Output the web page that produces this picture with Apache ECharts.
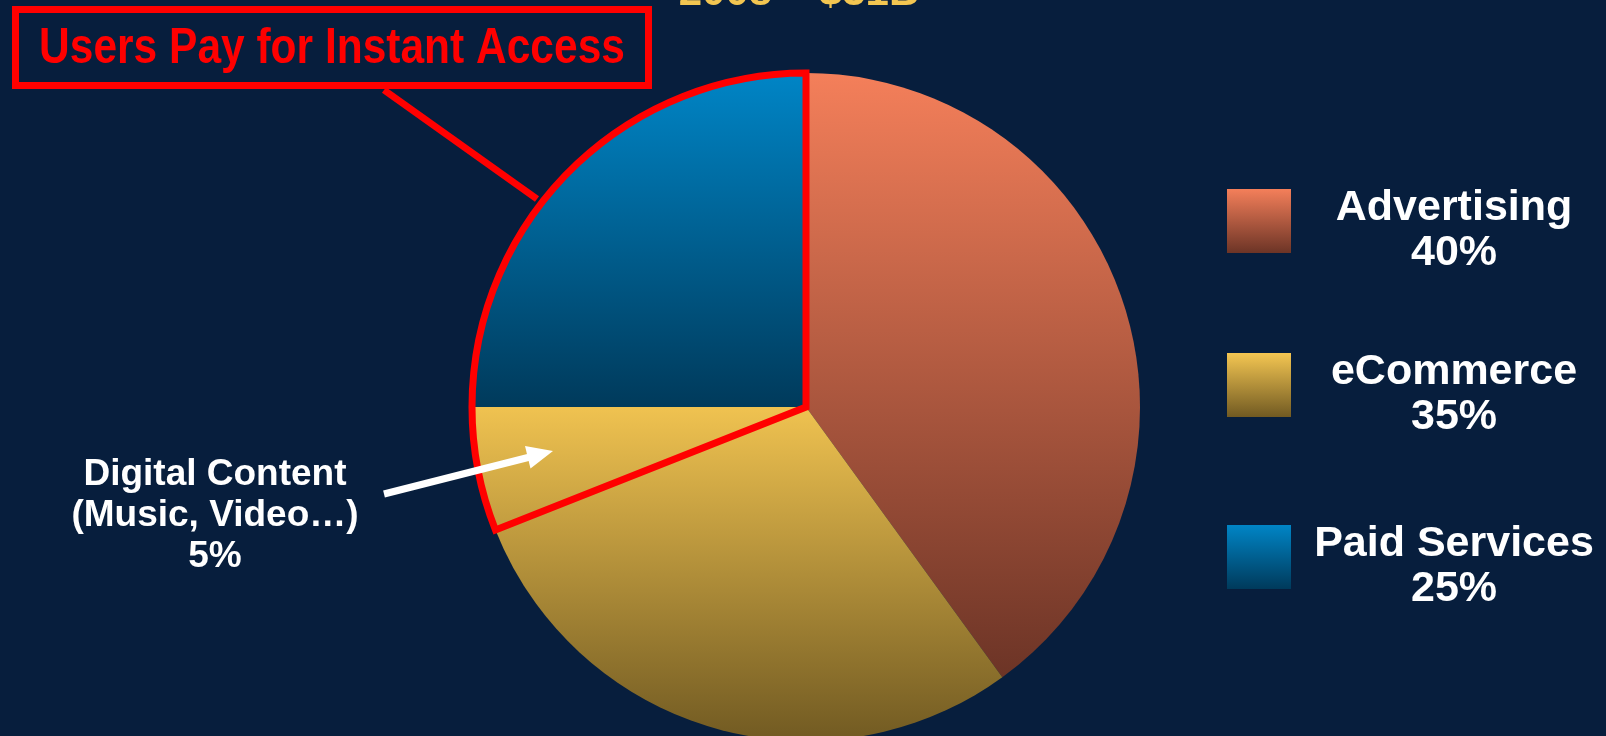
<!DOCTYPE html>
<html>
<head>
<meta charset="utf-8">
<script src="https://cdn.jsdelivr.net/npm/echarts@6/dist/echarts.min.js"></script>
<style>
  html, body { margin: 0; padding: 0; background: #071e3d; }
  #chart { width: 1606px; height: 736px; }
</style>
</head>
<body>
<div id="chart"></div>
<script>
// slices, clockwise from 12 o'clock (eCommerce is split: digital content is the last part of it)
const sliceNames = ['Advertising', 'eCommerce', 'Digital Content', 'Paid Services'];
const sliceValues = [40, 29, 6, 25];
// legend entries
const legendNames = ['Advertising', 'eCommerce', 'Paid Services'];
const legendPct = [40, 35, 25];
const legendIconTop = [189, 353, 525];

const titleText = '2008 – $31B';
const calloutText = 'Users Pay for Instant Access';
const digitalLabel = 'Digital Content\n(Music, Video…)\n5%';

const cx = 806, cy = 407, r = 334;

function grad(top, bottom) {
  return new echarts.graphic.LinearGradient(0, 0, 0, 1, [
    { offset: 0, color: top }, { offset: 1, color: bottom }
  ]);
}
// yellow spans two slices, so one gradient in page pixels
const yellow = {
  type: 'linear', x: 0, y: 395, x2: 0, y2: 741, global: true,
  colorStops: [{ offset: 0, color: '#f4c652' }, { offset: 1, color: '#715a22' }]
};
const sliceColors = [grad('#f47f5a', '#6c3426'), yellow, yellow, grad('#0085c6', '#003a5b')];
const legendColors = [grad('#f47f5a', '#6c3426'), grad('#f4c652', '#715a22'), grad('#0085c6', '#003a5b')];

const chart = echarts.init(document.getElementById('chart'));

const shadow = { textShadowColor: '#000', textShadowOffsetX: 2, textShadowOffsetY: 2, textShadowBlur: 0 };

// one legend per entry so each can sit where the slide put it
const legends = legendNames.map((name, i) => ({
  orient: 'vertical',
  left: 1227,
  top: legendIconTop[i] - 2,
  padding: 0,
  itemWidth: 64,
  itemHeight: 64,
  icon: 'rect',
  selectedMode: false,
  data: [{ name: name, itemStyle: { color: legendColors[i] } }],
  formatter: function (n) {
    return '{n|' + n + '}\n{n|' + legendPct[i] + '%}';
  },
  textStyle: {
    padding: [20, 0, 0, 0],
    rich: {
      n: Object.assign({
        fontFamily: 'Liberation Sans, Arial, sans-serif',
        fontWeight: 'bold', fontSize: 43, color: '#fff',
        width: 316, align: 'center', lineHeight: 45
      }, shadow)
    }
  }
}));

chart.setOption({
  backgroundColor: '#071e3d',
  animation: false,
  legend: legends,
  series: [
    {
      type: 'pie',
      center: [cx, cy],
      radius: [0, r],
      startAngle: 90,
      clockwise: true,
      silent: true,
      label: { show: false },
      labelLine: { show: false },
      data: sliceNames.map((n, i) => ({
        name: n, value: sliceValues[i],
        itemStyle: { color: sliceColors[i], borderWidth: 0 }
      }))
    },
    {
      // red outline around digital content + paid services
      type: 'pie',
      center: [cx, cy],
      radius: [0, r],
      startAngle: 90,
      clockwise: true,
      silent: true,
      z: 5,
      label: { show: false },
      labelLine: { show: false },
      data: [
        { name: 'rest', value: sliceValues[0] + sliceValues[1],
          itemStyle: { color: 'rgba(0,0,0,0)', borderWidth: 0 } },
        { name: 'instant', value: sliceValues[2] + sliceValues[3],
          itemStyle: { color: 'rgba(0,0,0,0)', borderColor: '#ff0000', borderWidth: 7, borderJoin: 'miter' } }
      ]
    }
  ],
  graphic: [
    {
      type: 'text', x: 799, y: 14, z: 100,
      style: {
        text: titleText, fill: '#f3c651',
        font: 'bold 42px "Liberation Sans", Arial, sans-serif',
        align: 'center', verticalAlign: 'bottom'
      }
    },
    {
      type: 'rect', z: 100,
      shape: { x: 15.5, y: 9.5, width: 633, height: 76 },
      style: { fill: 'none', stroke: '#ff0000', lineWidth: 7 }
    },
    {
      // narrow bold face is not installed, so squeeze the bold one
      type: 'text', x: 332, y: 49, z: 100, scaleX: 0.85,
      style: {
        text: calloutText, fill: '#ff0000',
        font: 'bold 50px "Liberation Sans", Arial, sans-serif',
        align: 'center', verticalAlign: 'middle'
      }
    },
    {
      type: 'line', z: 100,
      shape: { x1: 384, y1: 90, x2: 537, y2: 199 },
      style: { stroke: '#ff0000', lineWidth: 7 }
    },
    {
      type: 'text', x: 215, y: 516, z: 100,
      style: Object.assign({
        text: digitalLabel, fill: '#fff',
        font: 'bold 37px "Liberation Sans", Arial, sans-serif',
        lineHeight: 41, align: 'center', verticalAlign: 'middle'
      }, shadow)
    },
    {
      type: 'line', z: 100,
      shape: { x1: 384, y1: 494, x2: 530, y2: 457 },
      style: { stroke: '#ffffff', lineWidth: 7 }
    },
    {
      type: 'polygon', z: 100,
      shape: { points: [[553, 451], [530.5, 468.5], [525, 446]] },
      style: { fill: '#ffffff' }
    }
  ]
});
</script>
</body>
</html>
